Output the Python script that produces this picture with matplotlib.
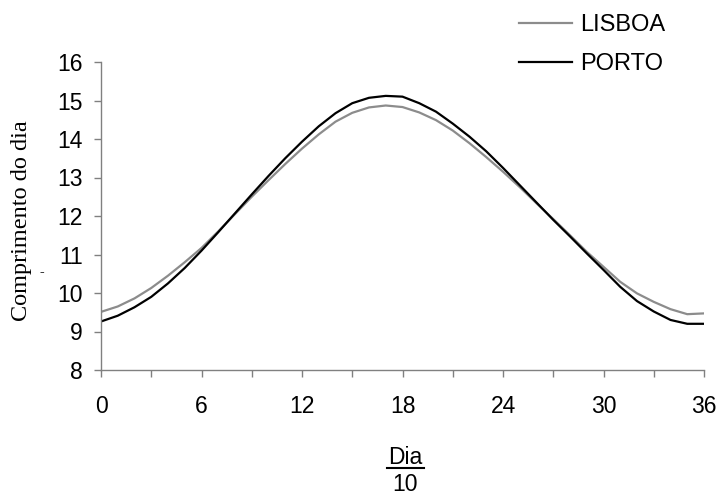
import matplotlib
matplotlib.use("Agg")
import matplotlib.pyplot as plt
from matplotlib.lines import Line2D

# ---- data ----
dia = list(range(0, 37))
lisboa = [9.51, 9.65, 9.86, 10.13, 10.45, 10.80, 11.17, 11.60, 12.05, 12.50,
          12.93, 13.35, 13.75, 14.12, 14.45, 14.68, 14.82, 14.87, 14.83, 14.69,
          14.49, 14.22, 13.89, 13.53, 13.15, 12.75, 12.33, 11.92, 11.50, 11.07,
          10.68, 10.29, 9.99, 9.77, 9.58, 9.45, 9.47]
porto = [9.26, 9.41, 9.63, 9.90, 10.25, 10.65, 11.10, 11.58, 12.07, 12.56,
         13.04, 13.50, 13.93, 14.33, 14.67, 14.93, 15.07, 15.12, 15.10, 14.93,
         14.71, 14.40, 14.06, 13.68, 13.25, 12.80, 12.35, 11.90, 11.47, 11.03,
         10.60, 10.16, 9.79, 9.52, 9.30, 9.20, 9.20]
series_names = ["LISBOA", "PORTO"]
x_major = [0, 6, 12, 18, 24, 30, 36]
x_minor = [3, 9, 15, 21, 27, 33]
y_ticks = [8, 9, 10, 11, 12, 13, 14, 15, 16]
ylabel = "Comprimento do dia"
xlabel_top = "Dia"
xlabel_bottom = "10"

W, H = 721, 497
fig = plt.figure(figsize=(W / 100, H / 100), dpi=100)
ax = fig.add_axes([101 / W, 1 - 370 / H, (704 - 101) / W, (370 - 62) / H])

sans = "Liberation Sans"
serif = "Liberation Serif"
fs = 16.5
axcol = "#808080"

l1, = ax.plot(dia, lisboa, color="#8c8c8c", lw=1.6, label=series_names[0])
l2, = ax.plot(dia, porto, color="#000000", lw=1.6, label=series_names[1])

ax.set_xlim(0, 36)
ax.set_ylim(8, 16)
ax.set_xticks(x_major)
ax.set_xticks(x_minor, minor=True)
ax.set_yticks(y_ticks)
for s in ["top", "right"]:
    ax.spines[s].set_visible(False)
for s in ["left", "bottom"]:
    ax.spines[s].set_color(axcol)
    ax.spines[s].set_linewidth(1.0)
ax.tick_params(axis="x", which="both", direction="out", length=5, width=1.0,
               color=axcol, pad=13)
ax.tick_params(axis="y", which="both", direction="out", length=5, width=1.0,
               color=axcol, pad=8)
for lab in ax.get_xticklabels() + ax.get_yticklabels():
    lab.set_fontfamily(sans)
    lab.set_fontsize(fs)
    lab.set_color("black")

# legend
fig.legend(handles=[l1, l2], loc="upper left",
           bbox_to_anchor=(519 / W, 1 - 14 / H), bbox_transform=fig.transFigure,
           frameon=False, prop={"family": sans, "size": 17},
           handlelength=2.25, handletextpad=0.35, labelspacing=0.72,
           borderpad=0, borderaxespad=0)

# y label
fig.text(22 / W, 1 - 221 / H, ylabel, rotation=90, family=serif, fontsize=17.5,
         ha="center", va="center")
fig.text(42 / W, 1 - 273 / H, "-", rotation=0, family=serif, fontsize=10,
         fontweight="bold", ha="center", va="center")

# x label as fraction
cx = 405 / W
fig.text(cx, 1 - 457 / H, xlabel_top, family=sans, fontsize=fs,
         ha="center", va="center")
fig.add_artist(Line2D([387 / W, 424 / W], [1 - 468 / H, 1 - 468 / H],
                      transform=fig.transFigure, color="black", lw=1.5))
fig.text(cx, 1 - 496 / H, xlabel_bottom, family=sans, fontsize=fs,
         ha="center", va="bottom")

fig.savefig("out.png", dpi=100, facecolor="white")
